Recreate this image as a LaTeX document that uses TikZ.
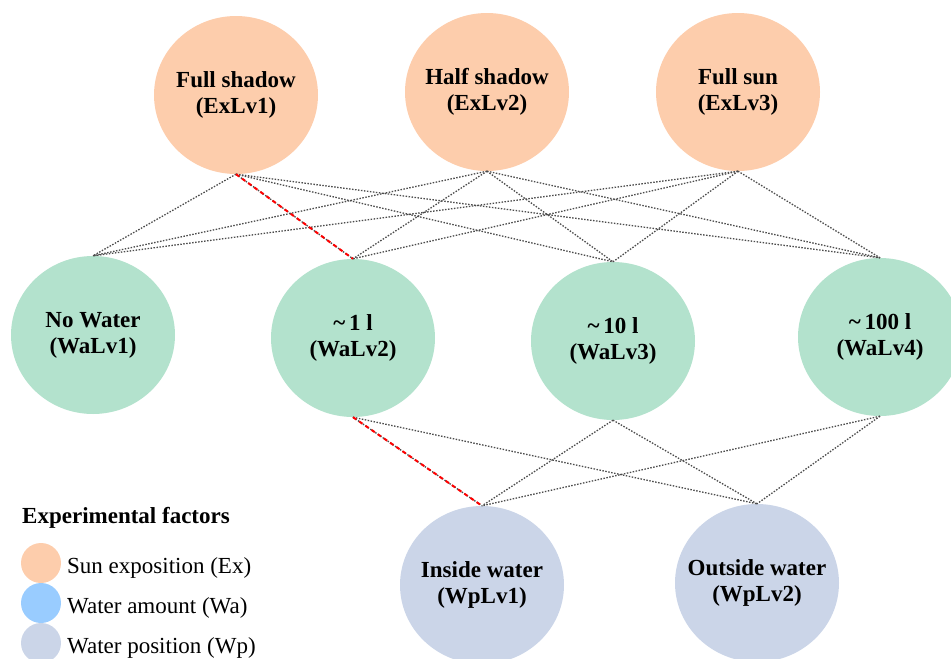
\documentclass[tikz,border=0pt]{standalone}
\usepackage{fontspec}
\setmainfont{Liberation Serif}
\usetikzlibrary{shapes.geometric}
\definecolor{sunc}{HTML}{FDCDAC}
\definecolor{wac}{HTML}{B3E2CD}
\definecolor{wpc}{HTML}{CBD5E8}
\definecolor{legwa}{HTML}{99CCFF}
\tikzset{
  level/.style={ellipse, minimum width=164pt, minimum height=158pt, inner sep=0pt,
    label={[align=center, font=\fontsize{23}{26}\selectfont\bfseries]center:#1}},
  exnode/.style={level={#1}, fill=sunc},
  wanode/.style={level={#1}, fill=wac},
  wpnode/.style={level={#1}, fill=wpc},
  link/.style={draw=black!70, line width=1.3pt, dash pattern=on 1.5pt off 1.5pt},
  picked/.style={draw=red, line width=2pt, dash pattern=on 4pt off 3.5pt},
  legdot/.style={circle, minimum size=40pt, inner sep=0pt},
  legtext/.style={anchor=base west, inner sep=0pt, font=\fontsize{23}{26}\selectfont}
}
\begin{document}
\begin{tikzpicture}[x=1pt, y=-1pt]
\useasboundingbox (0,0) rectangle (951,659);
\begin{scope}
\clip (0,0) rectangle (951,659);
% sun exposition levels
\node[exnode={Full shadow\\(ExLv1)}] (ex1) at (236,95) {};
\node[exnode={Half shadow\\(ExLv2)}] (ex2) at (487,92) {};
\node[exnode={Full sun\\(ExLv3)}] (ex3) at (738,92) {};
% water amount levels
\node[wanode={No Water\\(WaLv1)}] (wa1) at (93,335) {};
\node[wanode={\textasciitilde\,1 l\\(WaLv2)}] (wa2) at (353,338) {};
\node[wanode={\textasciitilde\,10 l\\(WaLv3)}] (wa3) at (613,341) {};
\node[wanode={\textasciitilde\,100 l\\(WaLv4)}] (wa4) at (880,337) {};
% water position levels
\node[wpnode={Inside water\\(WpLv1)}] (wp1) at (482,585) {};
\node[wpnode={Outside water\\(WpLv2)}] (wp2) at (757,583) {};
\end{scope}
% combinations between factor levels
\foreach \e in {ex1,ex2,ex3}{
  \foreach \w in {wa1,wa2,wa3,wa4}{
    \draw[link] (\e.south) -- (\w.north);
  }
}
\foreach \w in {wa2,wa3,wa4}{
  \foreach \p in {wp1,wp2}{
    \draw[link] (\w.south) -- (\p.north);
  }
}
% highlighted path
\draw[picked] (ex1.south) -- (wa2.north);
\draw[picked] (wa2.south) -- (wp1.north);
% legend
\node[anchor=base west, inner sep=0pt, font=\fontsize{23}{26}\selectfont\bfseries] (legtitle) at (22,523) {Experimental factors};
\node[legdot, fill=sunc] (l1) at (41,563) {};
\node[legdot, fill=legwa] (l2) at (41,603) {};
\node[legdot, fill=wpc] (l3) at (41,643) {};
\node[legtext] (t1) at (67,573) {Sun exposition (Ex)};
\node[legtext] (t2) at (67,613) {Water amount (Wa)};
\node[legtext] (t3) at (67,653) {Water position (Wp)};
\end{tikzpicture}
\end{document}
